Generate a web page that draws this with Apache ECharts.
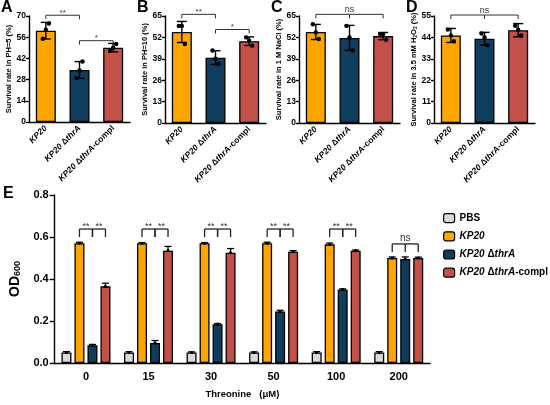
<!DOCTYPE html>
<html>
<head>
<meta charset="utf-8">
<script src="https://cdn.jsdelivr.net/npm/echarts@6/dist/echarts.min.js"></script>
<style>
html, body { margin: 0; padding: 0; background: #fff; }
#chart { width: 550px; height: 405px; }
</style>
</head>
<body>
<div id="chart"></div>
<script>
// strains / groups
var strains = ['KP20', 'KP20 ΔthrA', 'KP20 ΔthrA-compl'];
var legendNames = ['PBS', 'KP20', 'KP20 ΔthrA', 'KP20 ΔthrA-compl'];
var threonine = ['0', '15', '30', '50', '100', '200'];

// A: PH=5
var aMean = [60.3, 34.4, 49.1];
var aSd = [5.5, 5.5, 2.8];
var aPts = [[55, 61, 65], [29, 34, 40], [47, 49, 51.5]];
var aSig = [[0, 1, 70.5, '**'], [1, 2, 53.7, '*']];
// B: PH=10
var bMean = [55.3, 39.7, 49.7];
var bSd = [6.4, 4.2, 2.6];
var bPts = [[59, 59, 48], [44, 39, 36], [52, 50, 47]];
var bSig = [[0, 1, 66, '**'], [1, 2, 56.8, '*']];
// C: 1 M NaCl
var cMean = [55.3, 51.7, 52.8];
var cSd = [4.6, 7.6, 2.2];
var cPts = [[60, 55, 51], [59, 52, 44], [54, 54, 50.5]];
var cSig = [[0, 2, 66, 'ns']];
// D: 3.5 mM H2O2
var dMean = [45, 43.3, 47.7];
var dSd = [3.6, 3.3, 3.4];
var dPts = [[48, 45, 42], [46, 44, 40], [50, 48, 45]];
var dSig = [[0, 2, 55.5, 'ns']];

// E: OD600 by threonine
var ePbs = [0.05, 0.05, 0.05, 0.05, 0.05, 0.05];
var eKp20 = [0.57, 0.57, 0.57, 0.57, 0.565, 0.50];
var eThrA = [0.085, 0.095, 0.185, 0.245, 0.35, 0.495];
var eCompl = [0.365, 0.535, 0.525, 0.53, 0.535, 0.50];
var ePbsSd = [0.004, 0.004, 0.003, 0.003, 0.004, 0.004];
var eKp20Sd = [0.005, 0.003, 0.003, 0.005, 0.006, 0.005];
var eThrASd = [0.003, 0.012, 0.003, 0.006, 0.003, 0.01];
var eComplSd = [0.015, 0.02, 0.02, 0.005, 0.003, 0.004];
// [group, fromBar, toBar, y, label]
var eSig = [
    [0, 1, 2, 0.638, '**'], [0, 2, 3, 0.638, '**'],
    [1, 1, 2, 0.638, '**'], [1, 2, 3, 0.638, '**'],
    [2, 1, 2, 0.638, '**'], [2, 2, 3, 0.638, '**'],
    [3, 1, 2, 0.638, '**'], [3, 2, 3, 0.638, '**'],
    [4, 1, 2, 0.638, '**'], [4, 2, 3, 0.638, '**'],
    [5, 1, 3, 0.567, 'ns'],
];

var colors = ['#DADADA', '#FFA500', '#0F3D5E', '#C4504A'];
var strainColors = colors.slice(1);
var font = 'Liberation Sans, Arial, sans-serif';

var myChart = echarts.init(document.getElementById('chart'));

function richName(s) {
    // italic gene / strain parts
    if (s === 'PBS') return '{n|PBS}';
    var out = '{i|KP20}';
    if (s.indexOf('Δ') >= 0) out += '{n| Δ}{i|thrA}';
    if (s.indexOf('-compl') >= 0) out += '{n|-compl}';
    return out;
}
function richStyles(size) {
    return {
        i: { fontStyle: 'italic', fontWeight: 'bold', fontSize: size, fontFamily: font, color: '#000' },
        n: { fontWeight: 'bold', fontSize: size, fontFamily: font, color: '#000' },
    };
}

var grids = [
    { left: 29, top: 16, width: 101, height: 106 },
    { left: 165, top: 16, width: 101, height: 107 },
    { left: 299, top: 16, width: 101, height: 107 },
    { left: 434, top: 16, width: 101, height: 107 },
    { left: 52, top: 195, width: 378, height: 168 },
];
var panels = [
    { mean: aMean, sd: aSd, pts: aPts, sig: aSig, max: 70, step: 14, name: 'Survival rate in PH=5 (%)' },
    { mean: bMean, sd: bSd, pts: bPts, sig: bSig, max: 65, step: 13, name: 'Survival rate in PH=10 (%)' },
    { mean: cMean, sd: cSd, pts: cPts, sig: cSig, max: 65, step: 13, name: 'Survival rate in 1 M NaCl (%)' },
    { mean: dMean, sd: dSd, pts: dPts, sig: dSig, max: 55, step: 11, name: 'Survival rate in 3.5 mM H{s|2}O{s|2} (%)' },
];

var axisLine = { lineStyle: { color: '#000', width: 1.4 } };
var axisTick = { length: 3, lineStyle: { color: '#000', width: 1.4 } };

var xAxes = [], yAxes = [], series = [];
var jitter = [-3, 0, 3];

panels.forEach(function (p, k) {
    xAxes.push({
        type: 'category', gridIndex: k, data: strains,
        axisLine: axisLine, axisTick: { alignWithLabel: true, length: 3, lineStyle: axisTick.lineStyle },
        axisLabel: {
            interval: 0, rotate: 45, margin: 5,
            formatter: function (v) { return richName(v); },
            rich: richStyles(8.5),
        },
    });
    yAxes.push({
        type: 'value', gridIndex: k, min: 0, max: p.max, interval: p.step,
        name: p.name, nameLocation: 'middle', nameGap: 15,
        nameTextStyle: {
            fontSize: 7.5, fontWeight: 'bold', fontFamily: font, color: '#000',
            rich: { s: { fontSize: 5, fontWeight: 'bold', fontFamily: font, verticalAlign: 'bottom', padding: [3, 0, 0, 0] } },
        },
        axisLine: { show: true, lineStyle: axisLine.lineStyle }, axisTick: { show: true, length: 3, lineStyle: axisTick.lineStyle },
        splitLine: { show: false },
        axisLabel: { fontSize: 8.5, fontWeight: 'bold', fontFamily: font, color: '#000', margin: 3 },
    });
    series.push({
        type: 'bar', xAxisIndex: k, yAxisIndex: k, barWidth: 20,
        data: p.mean.map(function (v, i) {
            return { value: v, itemStyle: { color: strainColors[i] } };
        }),
        itemStyle: { borderColor: '#000', borderWidth: 1.3 },
        silent: true,
    });
    // error bars and replicate dots
    series.push({
        type: 'custom', xAxisIndex: k, yAxisIndex: k, z: 5,
        data: p.mean.map(function (v, i) { return [i, v, p.sd[i]]; }),
        renderItem: function (params, api) {
            var i = api.value(0), m = api.value(1), s = api.value(2);
            var hi = api.coord([i, m + s]), lo = api.coord([i, m - s]);
            var st = { stroke: '#000', lineWidth: 1.4 };
            var ch = [
                { type: 'line', shape: { x1: hi[0], y1: hi[1], x2: lo[0], y2: lo[1] }, style: st },
                { type: 'line', shape: { x1: hi[0] - 5, y1: hi[1], x2: hi[0] + 5, y2: hi[1] }, style: st },
                { type: 'line', shape: { x1: lo[0] - 5, y1: lo[1], x2: lo[0] + 5, y2: lo[1] }, style: st },
            ];
            p.pts[i].forEach(function (v, j) {
                var c = api.coord([i, v]);
                ch.push({ type: 'circle', shape: { cx: c[0] + jitter[j], cy: c[1], r: 2.2 }, style: { fill: '#000' } });
            });
            return { type: 'group', children: ch };
        },
    });
    // significance brackets
    series.push({
        type: 'custom', xAxisIndex: k, yAxisIndex: k, z: 6, clip: false,
        data: p.sig.map(function (b) { return [b[0], b[2]]; }),
        renderItem: function (params, api) {
            var b = p.sig[params.dataIndex];
            var a = api.coord([b[0], b[2]]), e = api.coord([b[1], b[2]]);
            var st = { stroke: '#333', lineWidth: 1 };
            var ch = [{ type: 'line', shape: { x1: a[0], y1: a[1], x2: e[0], y2: a[1] }, style: st }];
            for (var i = b[0]; i <= b[1]; i++) {
                var x = api.coord([i, b[2]])[0];
                ch.push({ type: 'line', shape: { x1: x, y1: a[1], x2: x, y2: a[1] + 4 }, style: st });
            }
            ch.push({
                type: 'text',
                style: {
                    x: (a[0] + e[0]) / 2, y: a[1] - (b[3] === 'ns' ? 0.5 : -1.5), text: b[3],
                    align: 'center', verticalAlign: 'bottom',
                    fill: '#333', fontSize: b[3] === 'ns' ? 9 : 8, fontFamily: font,
                },
            });
            return { type: 'group', children: ch };
        },
    });
});

// panel E
var eMeans = [ePbs, eKp20, eThrA, eCompl];
var eSds = [ePbsSd, eKp20Sd, eThrASd, eComplSd];
var eBarW = 10, eGap = 3;
function eOffset(s) { return (s - 1.5) * (eBarW + eGap); }

xAxes.push({
    type: 'category', gridIndex: 4, data: threonine,
    name: 'Threonine   (μM)', nameLocation: 'middle', nameGap: 26,
    nameTextStyle: { fontSize: 9.5, fontWeight: 'bold', fontFamily: font, color: '#000' },
    axisLine: axisLine, axisTick: { alignWithLabel: true, length: 5, lineStyle: axisTick.lineStyle },
    axisLabel: { fontSize: 11, fontWeight: 'bold', fontFamily: font, color: '#000', margin: 8 },
});
yAxes.push({
    type: 'value', gridIndex: 4, min: 0, max: 0.8, interval: 0.2,
    name: '{b|OD}{s|600}', nameLocation: 'middle', nameGap: 28,
    nameTextStyle: {
        rich: {
            b: { fontSize: 14, fontWeight: 'bold', fontFamily: font, color: '#000' },
            s: { fontSize: 9, fontWeight: 'bold', fontFamily: font, color: '#000', verticalAlign: 'bottom', padding: [6, 0, 0, 0] },
        },
    },
    axisLine: { show: true, lineStyle: axisLine.lineStyle }, axisTick: { show: true, length: 5, lineStyle: axisTick.lineStyle },
    splitLine: { show: false },
    axisLabel: { fontSize: 11, fontWeight: 'bold', fontFamily: font, color: '#000', margin: 6,
        formatter: function (v) { return v.toFixed(1); } },
});

legendNames.forEach(function (n, s) {
    series.push({
        name: n, type: 'bar', xAxisIndex: 4, yAxisIndex: 4,
        barWidth: eBarW, barGap: (eGap / eBarW * 100) + '%',
        data: eMeans[s],
        itemStyle: { color: colors[s], borderColor: '#000', borderWidth: 1.3 },
        silent: true,
    });
});

var eErr = [];
eMeans.forEach(function (arr, s) {
    arr.forEach(function (v, g) { eErr.push([g, v, eSds[s][g], s]); });
});
series.push({
    type: 'custom', xAxisIndex: 4, yAxisIndex: 4, z: 5,
    data: eErr,
    renderItem: function (params, api) {
        var g = api.value(0), m = api.value(1), s = api.value(2), k = api.value(3);
        var dx = eOffset(k);
        var hi = api.coord([g, m + s]), lo = api.coord([g, m]);
        var x = hi[0] + dx;
        var st = { stroke: '#000', lineWidth: 1.3 };
        return {
            type: 'group', children: [
                { type: 'line', shape: { x1: x, y1: hi[1], x2: x, y2: lo[1] }, style: st },
                { type: 'line', shape: { x1: x - 3.5, y1: hi[1], x2: x + 3.5, y2: hi[1] }, style: st },
                { type: 'circle', shape: { cx: x, cy: api.coord([g, m])[1], r: 1.6 }, style: { fill: '#000' } },
            ],
        };
    },
});
series.push({
    type: 'custom', xAxisIndex: 4, yAxisIndex: 4, z: 6, clip: false,
    data: eSig.map(function (b) { return [b[0], b[3]]; }),
    renderItem: function (params, api) {
        var b = eSig[params.dataIndex];
        var c = api.coord([b[0], b[3]]);
        var x1 = c[0] + eOffset(b[1]), x2 = c[0] + eOffset(b[2]);
        var st = { stroke: '#222', lineWidth: 1.3 };
        var ch = [{ type: 'line', shape: { x1: x1, y1: c[1], x2: x2, y2: c[1] }, style: st }];
        for (var i = b[1]; i <= b[2]; i++) {
            var x = c[0] + eOffset(i);
            ch.push({ type: 'line', shape: { x1: x, y1: c[1], x2: x, y2: c[1] + 8 }, style: st });
        }
        ch.push({
            type: 'text',
            style: {
                x: (x1 + x2) / 2, y: c[1] + (b[4] === 'ns' ? -1 : 2), text: b[4],
                align: 'center', verticalAlign: 'bottom',
                fill: '#333', fontSize: b[4] === 'ns' ? 10 : 9, fontFamily: font,
            },
        });
        return { type: 'group', children: ch };
    },
});

var letterStyle = { fontSize: 16, fontWeight: 'bold', fontFamily: font, color: '#000' };
var option = {
    animation: false,
    title: [
        { text: 'A', left: 1, top: 0, padding: 0, textStyle: letterStyle },
        { text: 'B', left: 137, top: 0, padding: 0, textStyle: letterStyle },
        { text: 'C', left: 271, top: 0, padding: 0, textStyle: letterStyle },
        { text: 'D', left: 406, top: 0, padding: 0, textStyle: letterStyle },
        { text: 'E', left: 3, top: 186, padding: 0, textStyle: letterStyle },
    ],
    legend: {
        data: legendNames, orient: 'vertical', left: 438, top: 208,
        itemWidth: 11, itemHeight: 9, itemGap: 8,
        itemStyle: { borderColor: '#000', borderWidth: 1.2 },
        formatter: function (n) { return richName(n); },
        textStyle: { rich: richStyles(10) },
    },
    grid: grids,
    xAxis: xAxes,
    yAxis: yAxes,
    series: series,
};
myChart.setOption(option);
window.addEventListener('resize', function () {
    myChart.resize();
});
</script>
</body>
</html>
